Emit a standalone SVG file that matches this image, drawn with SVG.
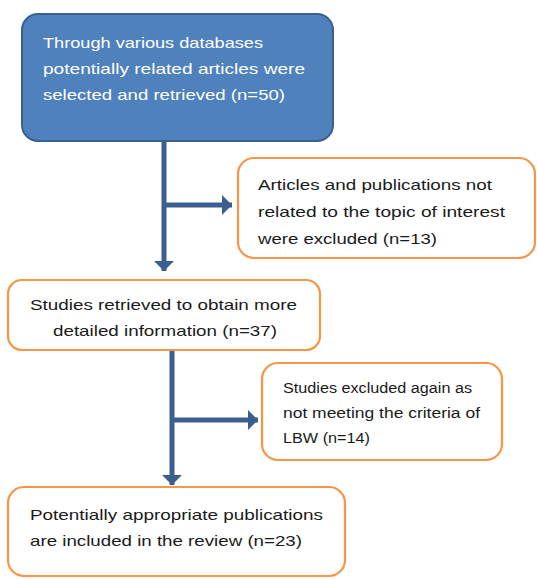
<svg xmlns="http://www.w3.org/2000/svg" width="537" height="579" viewBox="0 0 537 579">
<defs>
<style>
.t{font-family:"Liberation Sans",Arial,sans-serif;font-size:15px;fill:#1a1a1a}
.w{fill:#ffffff}
.s{font-size:14px}
.ob{fill:#ffffff;stroke:#f79646;stroke-width:2.2}
.bb{fill:#4f81bd;stroke:#3a6090;stroke-width:2}
.c{fill:none;stroke:#3a5f8f;stroke-width:5}
</style>
<marker id="ah" markerWidth="4" markerHeight="4" refX="2" refY="2" orient="auto" markerUnits="strokeWidth">
<path d="M0,0 L2,2 L0,4 Z" fill="#3a5f8f"/>
</marker>
</defs>
<rect width="537" height="579" fill="#ffffff"/>
<g id="connectors">
<line class="c" x1="164" y1="142" x2="164" y2="271" marker-end="url(#ah)"/>
<line class="c" x1="166" y1="205" x2="232" y2="205" marker-end="url(#ah)"/>
<line class="c" x1="172" y1="350" x2="172" y2="485" marker-end="url(#ah)"/>
<line class="c" x1="174" y1="420" x2="258" y2="420" marker-end="url(#ah)"/>
</g>
<g id="n1">
<rect class="bb" x="22" y="14" width="311" height="127" rx="16"/>
<text class="t w" x="43" y="48" textLength="220" lengthAdjust="spacingAndGlyphs">Through various databases</text>
<text class="t w" x="43" y="74" textLength="262" lengthAdjust="spacingAndGlyphs">potentially related articles were</text>
<text class="t w" x="43" y="100" textLength="242" lengthAdjust="spacingAndGlyphs">selected and retrieved (n=50)</text>
</g>
<g id="n2">
<rect class="ob" x="238" y="158" width="297" height="100" rx="16"/>
<text class="t" x="258" y="190" textLength="234" lengthAdjust="spacingAndGlyphs">Articles and publications not</text>
<text class="t" x="258" y="217" textLength="247" lengthAdjust="spacingAndGlyphs">related to the topic of interest</text>
<text class="t" x="258" y="244" textLength="179" lengthAdjust="spacingAndGlyphs">were excluded (n=13)</text>
</g>
<g id="n3">
<rect class="ob" x="8" y="280" width="312" height="70" rx="14"/>
<text class="t" x="30" y="310" textLength="267" lengthAdjust="spacingAndGlyphs">Studies retrieved to obtain more</text>
<text class="t" x="53" y="336" textLength="224" lengthAdjust="spacingAndGlyphs">detailed information (n=37)</text>
</g>
<g id="n4">
<rect class="ob" x="262" y="363" width="240" height="97" rx="16"/>
<text class="t s" x="283" y="393" textLength="189" lengthAdjust="spacingAndGlyphs">Studies excluded again as</text>
<text class="t s" x="283" y="418" textLength="197" lengthAdjust="spacingAndGlyphs">not meeting the criteria of</text>
<text class="t s" x="283" y="443" textLength="87" lengthAdjust="spacingAndGlyphs">LBW (n=14)</text>
</g>
<g id="n5">
<rect class="ob" x="8" y="487" width="337" height="89" rx="16"/>
<text class="t" x="30" y="520" textLength="293" lengthAdjust="spacingAndGlyphs">Potentially appropriate publications</text>
<text class="t" x="30" y="546" textLength="272" lengthAdjust="spacingAndGlyphs">are included in the review (n=23)</text>
</g>
</svg>
